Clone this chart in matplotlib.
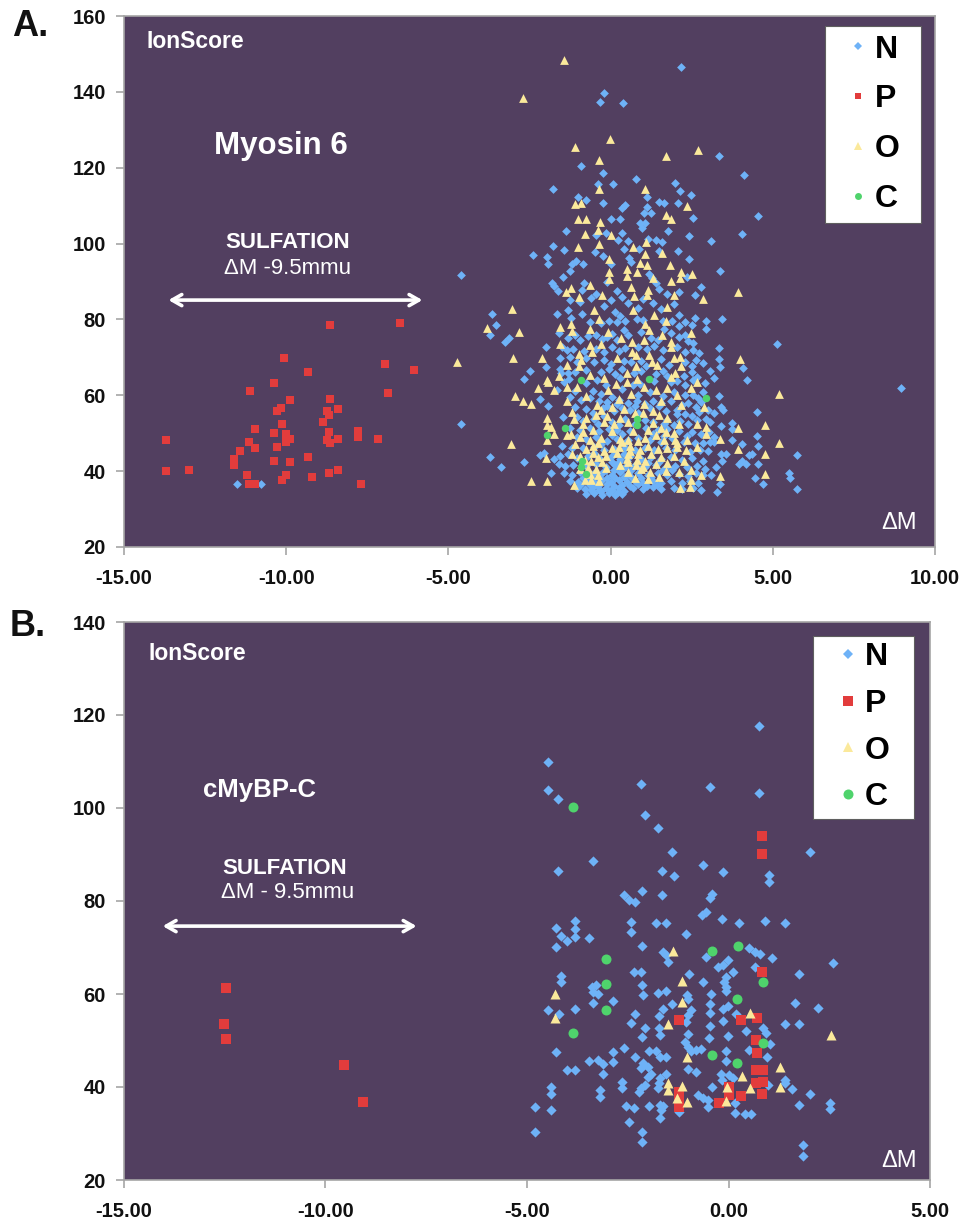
import numpy as np
import matplotlib
matplotlib.use('Agg')
import matplotlib.pyplot as plt
from matplotlib.lines import Line2D

plt.rcParams['font.family'] = ['Liberation Sans', 'DejaVu Sans']

# Panel A (Myosin 6), values as (delta M, ion score)
a_n_outer = [
    (2.16,146.6),(-0.21,139.8),(-0.33,137.3),(0.39,137),(3.34,123.2),(-0.92,120.4),(-0.23,118.5),(4.11,118.1),
    (-1.79,114.5),(-0.39,115.7),(0.07,115.6),(0.78,116.9),(1.98,116.1),(2.13,113.8),(2.48,112.9),(1.13,112.2),
    (-1.01,112.3),(-0.77,111.4),(-0.23,110.8),(1.49,111),(1.65,110.7),(2.08,110.6),(0.43,110.3),(0.36,109.5),
    (1.13,109.7),(4.54,107.2),(1.03,108),(1.23,108),(2.53,106.8),(0.02,106.4),(0.29,106.4),(0.9,105.3),(1.05,105.3),
    (0.98,104),(1.77,103.4),(-1.36,103.2),(4.06,102.6),(0.36,102.7),(-0.15,102.7),(2.43,102.1),(-0.46,102.2),
    (3.08,100.8),(0.23,100.9),(0.54,100.7),(1.15,101.2),(1.39,100.9),(1.58,100.5),(-1.78,99.3),(-1.45,98.3),
    (0.41,98.7),(0.89,98.7),(1.49,98.1),(2.07,98.1),(-0.48,97.7),(-2.40,96.9),(-1.95,96.5),(-1.92,94.6),(-0.24,96.7),
    (0.57,96.1),(0.64,95.2),(2.43,95.9),(-1.08,95.4),(-1.18,94.6),(-1.25,92.8),(-0.84,94.7),(0,94.6),(-4.60,91.8),
    (3.37,92.8),(-1.47,91.1),(1.18,92.1),(1.29,90.8),(1.39,89.5),(1.49,88.1),(2.37,91.2),(-1.80,89.6),(-1.75,88.8),
    (-1.62,87.5),(-0.82,89.5),(-0.87,87.7),(-0.46,86.8),(-0.10,89.9),(0.19,87.4),(1.75,86.7),(2.11,87.1),(2.80,88.6),
    (2.59,86.4),(0.36,85.9),
    (-3.65,81.5),(-3.53,78.6),(-3.72,76),(-3.13,75),(-3.24,74.1),(-1.64,81.5),(3.42,80),(2.93,79.5),(2.93,77.6),
    (5.12,73.5),(3.34,72.5),(3.34,69.5),(3.37,67.5),(4.08,67.2),(4.2,64.1),(3.19,64.6),(3.06,66.3),(2.86,68.5),
    (-2.49,66.3),(-2.67,64.3),(-1.98,67.5),(-2,72.7),(-1.52,65.9),(-2.19,58.9),(-1.93,57.2),(3.34,59.9),(4.52,55.5),
    (-1.46,54.3),(3.39,57),(3.45,56),(-4.60,52.3),(3.41,51.9),(3.75,52.7),(3.75,51.2),(4.52,49.3),(3.75,48.1),
    (4.06,47.1),(4.54,46.6),(3.19,49),(3.19,47.7),(4.37,44.6),(4.27,44.2),(5.74,44.2),(-3.72,43.6),(-3.39,41),
    (-2.67,42.4),(-2.19,44.2),(4.06,42.7),(3.96,42),(4.16,41.8),(4.54,41.8),(5.5,39.6),(5.53,38.3),(4.44,38.3),
    (4.71,36.6),(5.74,35.4),(3.39,44.6),(3.55,44.6),(3.44,42.7),(3.24,41),(3.08,38.9),(3.37,36.7),(3.29,34.5),
    (-11.53,36.7),(-10.78,36.6),(8.95,62),
]
a_n_core = [
    (-1.25,85.2),(-1.3,82.4),(-0.95,84.6),(-0.6,85.6),(-1.22,80.4),(-0.88,81.3),(-0.2,83.6),(0,85),(0.15,82),(0.3,80.9),
    (0.55,84.3),(0.85,83.1),(1,85.3),(1.3,84.2),(1.55,82.8),(1.95,84.1),(2.1,81.2),(2.6,80.4),(-0.62,79.4),(-0.3,79.1),
    (-0.05,79.5),(0.2,79.2),(0.45,79.7),(0.8,80),(1,79.8),(1.6,79.5),(1.9,79.7),(2.3,79.4),(2.5,78.5),(2.1,78.2),
    (-1.6,76.5),(-1.3,75.2),(-1.1,75.8),(-0.95,74.6),(-0.7,75.7),(-0.45,76),(-0.25,74.8),(-0.1,75.3),(0.05,76.1),(0.2,74.6),
    (0.4,77.2),(0.55,75.9),(0.95,76.7),(1.25,75.1),(1.45,74.5),(1.65,77.4),(1.85,76.3),(2.1,75.4),(2.3,75.9),(2.4,74.2),
    (2.55,73.8),(-1.5,72.6),(-1.35,71.9),(-1.15,72.3),(-0.82,71.7),(-0.45,72.2),(-0.2,71.4),(0.05,72.8),(0.25,71.8),(0.45,72.5),
    (0.85,72.7),(1.12,72.2),(1.35,73.1),(1.6,71.9),(2.05,72.8),(2.3,71.5),(2.55,72),(2.72,71.1),(-1.55,69.7),(-1.25,70),
    (-1.05,68.9),(-0.75,69.7),(-0.5,68.8),(-0.2,69.3),(0,68.2),(0.4,69.1),(0.62,68.7),(0.95,69.1),(1.1,67.8),(1.55,69.5),
    (1.8,68),(2.3,68.9),(2.5,67.8),(2.62,69.2),(-1.55,66.8),(-1.3,65.8),(-1.1,66.2),(-0.75,66.6),(-0.3,66.1),(-0.05,67),
    (0.15,65.6),(0.35,66.8),(0.72,65.9),(0.95,66.5),(1.4,65.6),(1.62,66.4),(1.75,65),(2.25,65.2),(2.5,66.2),(2.65,64.8),
    (-1.45,63.6),(-1.28,64.2),(-0.75,63.3),(-0.42,63.9),(-0.15,62.7),(0.3,64.5),(0.7,62.6),(0.9,63.1),(1.35,63.7),(1.85,63.4),
    (2.05,63.8),(2.3,62.7),(2.55,64.1),(2.9,63.2),(-1.65,61.4),(-1.1,61),(-0.55,61),(-0.3,60.4),(0.05,59.6),(0.35,61.7),
    (0.85,60.2),(1.2,60.8),(1.62,59.7),(1.95,60.8),(2.3,60.2),(2.55,60),(2.7,59.2),(2.85,60.8),(-1.25,59.5),(-0.9,58.7),
    (-0.62,59.3),(-0.35,58.4),(-0.1,58.1),(0.25,58.7),(0.55,57.9),(0.8,58.5),(1.3,58.4),(1.55,58),(1.85,58.4),(2.4,57.9),
    (2.62,56.9),(2.78,58.2),(3,56.2),(3.2,55.2),(-1.1,56.9),(-0.75,56.4),(-0.55,55.4),(-0.22,56.6),(0.1,55.9),(0.35,56.7),
    (0.6,56.2),(0.85,55.2),(1.2,56.6),(1.7,55.8),(2.05,56.2),(2.3,55.1),(2.5,54.6),(-1.05,54.3),(-0.85,53.2),(-0.5,53.8),
    (-0.2,54.5),(0.05,53),(0.45,53.7),(1.05,53.5),(1.3,53),(1.75,53.6),(2.15,53.1),(2.4,52.3),(2.65,53.5),(-1.25,51.4),
    (-0.95,50.9),(-0.65,51.3),(-0.35,50.7),(-0.05,51.2),(0.2,50.8),(0.6,50.5),(1.1,51.3),(1.45,50.9),(1.75,51.2),(2.1,50.6),
    (2.5,50.2),(2.8,49.7),(3.02,50.2),(-1.05,49.1),(-0.75,48.6),(-0.45,48.9),(-0.1,48),(0.2,48.6),(0.55,48.1),(0.85,48.7),
    (1.2,48.2),(1.55,47.6),(1.9,48.7),(2.25,47.8),(2.6,47.4),(2.85,47.3),(3.05,47.8),(-1.5,46.5),(-1.2,46.2),(-0.85,46.1),
    (-0.5,46.4),(-0.2,45.7),(0.1,45.9),(0.45,46.2),(0.75,45.6),(1.05,46),(1.35,45.5),(1.7,46),(2,45.7),(2.45,45.1),
    (2.75,45.6),(3,45.2),(-2.05,44.7),(-1.75,43.2),(-1.55,43.9),(-1.3,44.4),(-1.05,43.5),(-0.7,43.9),(-0.35,43.4),(0,43.8),
    (0.3,43.2),(0.6,43.9),(0.95,43.2),(1.25,43.6),(1.55,43.1),(1.85,43.7),(2.2,43),(2.5,43.4),(2.85,42.6),(-1.6,41.9),
    (-1.4,41.4),(-1.15,41.7),(-0.75,41.3),(-0.45,41.8),(-0.15,41.2),(0.15,41.7),(0.45,41.1),(0.75,41.6),(1.05,41),(1.4,41.5),
    (1.7,41),(2,41.3),(2.35,41.1),(2.65,41.4),(2.9,40.6),(-1.85,39.6),(-1.45,39.4),(-1.2,39.1),(-0.95,39.7),(-0.55,39.3),
    (-0.25,39.6),(0.05,39.1),(0.3,39.7),(0.55,39.2),(0.85,39.6),(1.15,39),(1.45,39.5),(1.75,39),(2.1,39.3),(2.4,38.8),
    (2.62,39.4),(2.85,38.9),(-1.25,37.5),(-1,37.1),(-0.75,37.7),(-0.5,37.2),(-0.25,37.6),(0,37.1),(0.25,37.6),(0.5,37.1),
    (0.75,37.5),(1,37),(1.3,37.4),(1.55,37),(1.85,37.4),(2.2,37),(2.45,37.3),(2.7,36.8),(-1.05,35.6),(-0.8,35.2),
    (-0.55,35.7),(-0.35,35.1),(-0.15,35.6),(0.05,35),(0.25,35.5),(0.4,34.8),(0.7,35.6),(1,35.3),(1.3,35.7),(1.55,35.2),
    (1.95,35.5),(2.2,35.2),(2.55,35.6),(2.8,35.1),(-0.75,34),(-0.5,34.2),(-0.25,33.8),(-0.05,34.2),(0.15,33.8),(0.35,34.1),
    # second pass over the densest area, bottom of the cloud
    (-0.95,36.3),(-0.65,36.4),(-0.4,36.2),(-0.1,36.5),(0.12,36.1),(0.35,36.4),(0.6,36.2),(0.85,36.5),(1.12,36.1),(1.42,36.3),
    (-0.85,38.2),(-0.6,38.4),(-0.35,38.1),(-0.1,38.3),(0.15,38.2),(0.42,38.4),(0.65,38.3),(0.95,38.2),(1.25,38.4),(-0.3,34.7),
    (0.02,34.9),(0.22,34.4),(-0.6,34.9),(-0.15,40.4),(0.1,40.2),(0.35,40.5),(0.62,40.3),(0.9,40.6),(1.6,40.3),(1.9,40.2),
    (0.05,42.5),(0.25,42.3),(0.5,42.6),(1.15,42.2),(1.5,42.4),(-0.5,44.7),(0.15,44.8),(0.4,44.6),(-0.3,47.2),(0.45,47.4),
    (0.05,49.6),(0.35,49.9),(1.3,49.8),(1.65,49.3),(2.35,49.3),(-0.4,52.4),(0.25,52.1),(0.75,52.3),(1.65,52.3),(1.95,52.2),
    (-0.1,57.3),(0.2,57.6),(0.75,57.1),(1.05,57.6),(1.5,57.2),(2.2,57.4),(2.95,53.7),(3.05,52.9),(2.05,55.1),(2.72,55.5),
]
a_o_core = [
    (-1.44,148.4),(-2.71,138.3),(-0.03,127.5),(-1.10,125.5),(2.70,124.6),(1.70,123.2),(-0.36,122),(-0.36,114.5),(1.06,114.3),
    (2.34,110),(-1.11,110.4),(-0.9,110.8),(-1,106.4),(-0.75,106.5),(1.70,107.5),(1.85,106.6),(-0.33,105.6),(-0.39,103.5),
    (-0.8,102.4),(0,102.2),(-0.36,99.8),(-1,99),(0.7,99.1),(1.08,100.3),(1.07,97.2),(1.57,97.4),(-0.05,96),(0.91,94.9),
    (1.13,94.3),(1.83,94.3),(0.5,93.2),(-0.05,92.4),(0.82,92.4),(2.18,92.4),(2.5,92.1),(-0.05,90.6),(0.5,91.4),(1.32,91),
    (2.14,90.8),(1.85,90.2),(3.93,87.3),(-0.62,89.2),(0.62,88.6),(-1.23,88.2),(-1.36,87.3),(1.16,87.7),(1.13,86.4),(-0.26,86.4),
    (1.95,86.4),(0.72,86.2),(2.86,85.5),(-0.97,85.8),
    (-3.03,82.7),(-3.8,77.8),(-2.81,76.7),(-4.73,68.8),(-3,69.7),(-2.11,69.9),(-1.57,73.6),(-1.56,78),(-1.23,78.9),(-1.2,77),
    (-0.65,77.4),(-0.51,82.4),(-0.36,80.2),(0.7,82.6),(1.34,81.1),(1.75,83.3),(1.7,79.6),(1.05,78.9),(1.18,77.3),(1.03,74.5),
    (1.59,75.8),(2.49,76.3),(1.85,74),(1.85,72.7),(0.31,75.1),(0.67,74),(0.67,71.4),(-0.07,76.7),(-0.62,73.2),(-0.31,73.4),
    (-0.56,71.4),(-0.97,71),(-0.92,69.2),(-1.33,67.9),(-0.97,67.6),(0.21,69.7),(0.77,70.5),(1.18,70.7),(1.95,69.9),(2.13,70.1),
    (1.29,68.8),(1.44,67.9),(0.77,67.7),(2.18,67.6),(1.97,65.9),(3.99,69.5),(5.19,60.4),(-0.62,65.3),(-1.95,64.1),(-1.93,63.4),
    (-2.24,61.9),(-1.75,61.5),(-1.33,62.2),(-1.03,62.2),(-2.96,59.9),(-2.69,58.5),(-2.44,57.8),(-0.07,61.3),(0.52,65.9),(0.82,64.4),
    (0.52,63.5),(0.16,63),(0.62,60.4),(1.03,62.2),(1.39,61.3),(1.75,61.8),(2.67,63.5),(2.47,61.8),(2.06,60),(2.16,57.4),(1.03,57.8),
    (1.49,54.7),(2.88,56.9),(-0.43,57.4),(-1.18,55.6),(-1.13,53.8),(-1.97,54.1),(-1.95,52.1),(-1.85,51.6),(-1.75,49.7),(-1.97,48.1),
    (-1.35,49.4),(-1.23,49.9),(-3.06,47.1),(-1.98,43.5),(-2.44,37.4),(-1.97,37.4),(-1.13,36.4),(-0.8,37.6),(3.93,51.4),(4.75,52.1),
    (5.19,47.5),(3.94,45.9),(4.75,44.6),(4.75,39.3),(3.37,48.6),(3.37,38.6),(2.93,51.6),(2.93,49.9),(2.67,52.5),(2.67,46.4),(2.78,39),
    (2.11,39.9),(2.47,40.2),(2.47,37.6),(2.45,35.8),(2.13,35.6),(2.32,45.5),(2,48.1),(2.06,46.4),(2.37,48.1),(2.26,42.8),
    (0.05,56.8),(0.4,56.3),(0.75,55.2),(-0.1,54.5),(0.3,53.9),(1,55.3),(1.75,53.9),(-0.75,54),(-0.45,54.7),(-0.2,52.9),(0.1,52.4),
    (0.55,53),(1.3,52.7),(1.55,51.3),(2.1,52.5),(-0.85,52.3),(-0.85,50.4),(-0.55,50.9),(0.05,50.7),(0.7,50.6),(1.15,50.8),(1.7,50.2),
    (-0.95,48.9),(-0.65,48.3),(-0.3,48.8),(0.3,48.5),(0.55,48.1),(0.85,47.9),(1.4,49.4),(1.65,48.2),(-1.1,47.1),(-0.55,46.7),(-0.4,47.3),
    (-0.75,45.9),(-0.2,45.4),(0.05,46.2),(0.25,46.4),(0.6,45.2),(0.9,45.6),(1.15,46.6),(1.45,45.8),(1.75,46.2),(-1.2,44.4),(-0.95,44.1),
    (-0.55,44.8),(-0.4,43.6),(-0.15,44),(0.55,44.4),(0.85,44.4),(1.25,44.6),(1.55,43.6),(1.95,44.1),(-0.6,42.7),(-0.25,42.4),(0.3,41.5),
    (0.8,43),(1.05,42.6),(1.4,41.9),(1.75,42.2),(-0.7,40.9),(-0.45,40.6),(-0.15,40.7),(0.55,39.7),(0.95,40.6),(1.2,39.8),(1.7,40.1),
    (-0.65,39.3),(-0.4,38.9),(-0.6,37.6),(-0.35,37.3),(0.75,38.3),(1.15,38),(1.5,38.4),
    (0.2,44.9),(0.5,43.1),(0.78,41.6),(1,41.1),(-0.8,43),(-0.9,41.8),(-0.95,40.5),(0.35,47.6),(0.6,46.7),(1.05,48.8),(0.55,42.3),
    (1.95,50),(1.3,55.8),(1.55,58.6),(0.25,59),(-0.75,59.8),(-0.3,56),(2.05,47.3),(-1.35,58.6),(-1.6,65),(-0.2,64.6),(1.85,64.8),
]
a_p = [
    (-8.66,78.4),(-6.50,79),(-10.08,69.8),(-6.95,68.3),(-6.05,66.6),(-9.34,66.2),(-10.37,63.3),(-11.13,61.2),(-6.87,60.5),
    (-9.89,58.7),(-8.66,59.1),(-10.17,56.7),(-10.29,55.9),(-8.75,55.9),(-8.39,56.3),(-8.68,54.8),(-8.88,52.9),(-10.12,52.4),
    (-10.97,51.1),(-7.79,50.7),(-8.68,50.3),(-10.37,50.1),(-10.01,49.9),(-7.79,48.9),(-13.71,48.1),(-7.16,48.6),(-9.88,48.6),
    (-10.01,47.7),(-8.75,48.2),(-8.66,47.4),(-8.41,48.5),(-11.14,47.6),(-10.97,46.2),(-10.29,46.3),(-11.42,45.4),(-11.61,43.3),
    (-11.61,42.5),(-11.61,41.6),(-9.34,43.8),(-10.37,42.7),(-9.89,42.5),(-13.71,40.1),(-13.01,40.3),(-8.39,40.3),(-8.68,39.4),
    (-10.01,39.1),(-11.22,38.9),(-10.12,37.7),(-9.21,38.4),(-10.97,36.5),(-11.15,36.5),(-7.69,36.5),
]
a_c = [(-0.92,63.9),(1.18,64.4),(2.94,59.4),(0.82,53.8),(0.82,52.1),(-1.4,51.5),(-1.95,49.4),(-0.89,42.7),(-0.92,41.1),(-0.77,39.2)]

# Panel B (cMyBP-C)
b_n = [
    (0.76,117.6),(-4.47,109.8),(-4.47,103.9),(-4.22,101.9),(-2.18,105.1),(-0.47,104.5),(0.76,103.3),(-2.08,98.6),(-1.75,95.8),
    (-1.39,90.5),(2.02,90.6),(-3.36,88.5),(-4.22,86.5),(-0.64,87.7),(-1.66,86.4),(-1.34,85.4),(-0.13,86.2),(1.01,85.6),(1.01,84.1),
    (-2.15,82.1),(-2.6,81.3),(-2.47,80.2),(-2.32,79.7),(-1.66,81.2),(-0.4,81.5),(-0.45,80.6),(-0.57,77.7),(-0.65,77),(-0.17,76.1),
    (0.26,75.3),(0.91,75.8),(1.39,75.3),(-3.8,75.6),(-3.8,74),(-3.8,72.2),(-4.28,74.3),(-4.15,72.5),(-4,71.3),(-4.28,70.1),(-3.46,72),
    (-2.43,75.5),(-2.43,73.4),(-1.79,75.3),(-1.54,75.2),(-1.06,73),(-2.15,70.4),(-1.63,69.1),(-1.55,68.4),(-1.5,66.9),(0.52,70),
    (0.65,69),(0.77,68.5),(1.08,67.7),(-0.57,68),(-0.02,67.3),(-0.14,66.2),(-0.26,65.9),(2.59,66.6),(0.65,65.7),(1.76,64.4),(-2.35,64.8),
    (-2.17,64.8),(-0.98,64.2),(0.11,64.8),(-0.06,63.7),(-0.1,62.6),(-0.07,61.6),(-0.07,60.7),(-4.15,63.9),(-4.15,62.5),(-0.64,62.6),
    (-2.14,62),(-3.28,61.9),(-3.38,61.6),(-3.37,60.5),(-3.24,60),(-1.75,60.2),(-1.55,60.7),(-2.11,59.8),(-1.03,59.8),(-1,59),(-0.43,60),
    (-2.87,58.6),(-3.37,58.1),(1.66,58.1),(2.23,56.9),(-4.47,56.6),(-3.8,56.7),(-1.41,57.8),(-0.45,57.8),(-0.45,56),(-0.02,57.5),(-0.14,56.8),
    (-1.63,56.8),(-1.73,55.3),(-0.93,56.6),(-1.01,55.5),(-1.05,54),(-2.32,55.8),(-4.21,55.7),(-2.43,53.8),(0.19,55.7),(-0.13,54.2),
    (1.41,53.5),(1.76,53.5),(-0.45,53.2),(0.85,52.6),(0.92,51.7),(0.44,52),(-2.08,52.6),(-1.73,52.6),(-1.71,51.2),(-2.15,50.7),(-1,51.5),
    (-0.49,50.6),(-0.02,50.9),(1.02,49.2),(-1.09,49.6),(-1,48.7),(-0.93,47.7),(-0.8,48),(-0.68,48.1),(-2.59,48.4),(-2.87,47.6),(-4.28,47.6),
    (-1.98,47.8),(-1.79,47.8),(-1.71,46.4),(-1.55,46.5),(-2.32,46.5),(-0.07,47.8),(0.52,47.9),(0.96,46.5),(-2.87,45.4),(-3.45,45.6),
    (-3.24,45.7),(-3.12,44.9),(-3.12,42.9),(-0.07,45.6),(-2.13,45.2),(-2,44.4),(-2.17,44),(-1.92,42.9),(-2,42.2),(-4,43.7),(-3.8,43.7),
    (-1,43.8),(-0.8,43.2),(-1.55,42.9),(-0.18,42.9),(0.02,42.6),(0.11,41.9),(-0.16,41.5),(0.98,40.4),(1.39,41.6),(1.39,40.8),(-1.71,41.9),
    (-1.73,40.8),(-1.75,39.7),(-2.64,41.1),(-2.64,39.8),(-2.08,40.4),(-2.17,39.7),(-2.21,38.9),(-4.4,40),(-4.4,38.6),(-3.18,39.3),(-3.18,37.8),
    (-0.4,40),(1.57,39.6),(2.02,38.4),(-0.76,38.3),(-0.64,37.6),(-0.51,37.2),(-0.5,35.8),(2.52,36.5),(2.52,35.3),(1.76,36.1),(-4.8,35.6),
    (-4.4,35),(-2.55,35.9),(-2.35,35.4),(-1.98,35.9),(-1.71,36.1),(-1.63,35.9),(-1.67,35),(-1.71,33.3),(-1.22,34.7),(0.15,36.5),(0.15,34.5),
    (0.4,34.2),(0.56,34.1),(-2.46,32.4),(-4.8,30.4),(-2.14,30.3),(-2.14,28.2),(1.86,27.5),(1.86,25.2),
]
b_p = [
    (0.84,94),(0.84,90.2),(0.84,64.7),(-1.24,54.4),(0.31,54.4),(0.7,54.9),(0.69,50.2),(0.7,47.4),(0.69,43.7),(0.85,43.7),(0.69,40.9),
    (0.85,41.1),(0.84,38.4),(0.31,38.1),(0.01,40),(0.01,38.3),(-0.24,36.5),(-1.24,39),(-1.24,37.2),(-1.24,35.6),
    (-12.47,61.3),(-12.53,53.5),(-12.47,50.3),(-9.55,44.7),(-9.06,36.8),
]
b_o = [
    (-1.38,69.2),(-1.16,62.9),(-1.16,58.3),(-4.31,60.1),(-4.31,54.8),(-1.49,53.5),(0.54,56),(2.55,51.2),(1.27,44.4),(-1.03,46.4),(0.33,42.4),
    (-1.5,40.8),(-1.15,40.3),(-1.49,39.3),(-1.28,37.6),(-1.03,36.7),(-0.04,39.9),(-0.06,37),(0.54,39.8),(1.27,40.1),
]
b_c = [
    (-3.87,100.3),(0.23,70.4),(-0.41,69.2),(-3.04,67.5),(-3.04,62.1),(0.85,62.5),(-3.04,56.6),(0.22,59),(-3.87,51.7),(0.85,49.4),(-0.41,46.9),(0.22,45.1),
]

a_xticks = [-15, -10, -5, 0, 5, 10]
a_yticks = [20, 40, 60, 80, 100, 120, 140, 160]
b_xticks = [-15, -10, -5, 0, 5]
b_yticks = [20, 40, 60, 80, 100, 120, 140]

BG = '#523f60'
GREY = '#a5a5a5'
BLUE = '#6eb2f7'
RED = '#e23c3c'
YELLOW = '#fbe99b'
GREEN = '#4fd36c'
W, H = 961, 1217


def px_axes(left, top, right, bottom):
    return fig.add_axes([left / W, 1 - bottom / H, (right - left) / W, (bottom - top) / H])


def put(px, py, s, **kw):
    kw.setdefault('ha', 'center')
    kw.setdefault('va', 'center')
    kw.setdefault('color', 'white')
    fig.text(px / W, 1 - py / H, s, **kw)


def draw_panel(ax, n, p, o, c, xticks, yticks, xlim, ylim, sizes):
    ax.set_facecolor(BG)
    ax.scatter(*zip(*n), marker='D', s=sizes[0], color=BLUE, linewidths=0, zorder=2)
    ax.scatter(*zip(*p), marker='s', s=sizes[1], color=RED, linewidths=0, zorder=3)
    ax.scatter(*zip(*o), marker='^', s=sizes[2], color=YELLOW, linewidths=0, zorder=4)
    ax.scatter(*zip(*c), marker='o', s=sizes[3], color=GREEN, linewidths=0, zorder=5)
    ax.set_xlim(*xlim)
    ax.set_ylim(*ylim)
    ax.set_xticks(xticks)
    ax.set_xticklabels(['%.2f' % t for t in xticks])
    ax.set_yticks(yticks)
    ax.tick_params(length=6, width=1.2, color=GREY, labelsize=14.5, labelcolor='#111111')
    ax.tick_params(axis='x', pad=10)
    ax.tick_params(axis='y', pad=7)
    for lab in ax.get_xticklabels() + ax.get_yticklabels():
        lab.set_fontweight('bold')
    for s in ax.spines.values():
        s.set_color(GREY)
        s.set_linewidth(1.2)


def add_legend(ax, box, ms, pad, hlen, tpad, spacing):
    handles = [
        Line2D([], [], ls='', marker='D', ms=ms[0], color=BLUE, mew=0),
        Line2D([], [], ls='', marker='s', ms=ms[1], color=RED, mew=0),
        Line2D([], [], ls='', marker='^', ms=ms[2], color=YELLOW, mew=0),
        Line2D([], [], ls='', marker='o', ms=ms[3], color=GREEN, mew=0),
    ]
    left, top, width, height = box
    leg = ax.legend(handles, ['N', 'P', 'O', 'C'], loc='upper left',
                    bbox_to_anchor=(left / W, 1 - (top + height) / H, width / W, height / H),
                    bbox_transform=fig.transFigure, prop={'weight': 'bold', 'size': 23},
                    frameon=True, fancybox=False, framealpha=1, facecolor='white', edgecolor='#5f5f5f',
                    mode='expand', borderaxespad=0, borderpad=pad, labelspacing=spacing,
                    handlelength=hlen, handletextpad=tpad)
    leg.get_frame().set_linewidth(0.8)
    leg.set_zorder(10)
    return leg


def arrow(ax, x0, x1, y):
    ax.annotate('', xy=(x1, y), xytext=(x0, y),
                arrowprops=dict(arrowstyle='<->,head_length=0.7,head_width=0.4', color='white', lw=2.6,
                                shrinkA=0, shrinkB=0), zorder=6)


fig = plt.figure(figsize=(W / 100, H / 100), dpi=100, facecolor='white')

ax_a = px_axes(124, 16, 935, 547)
draw_panel(ax_a, a_n_outer + a_n_core, a_p, a_o_core, a_c, a_xticks, a_yticks, (-15, 10), (20, 160), (20, 29, 40, 29))
add_legend(ax_a, (825, 26, 96, 201), (3.8, 5, 6, 5), 0.27, 1.53, -0.24, 0.62)
arrow(ax_a, -13.63, -5.8, 85.1)

ax_b = px_axes(124, 622, 930, 1180)
draw_panel(ax_b, b_n, b_p, b_o, b_c, b_xticks, b_yticks, (-15, 5), (20, 140), (27, 50, 52, 52))
add_legend(ax_b, (813, 636, 101, 187), (5, 6.5, 7.2, 7.2), 0.2, 1.78, -0.35, 0.52)
arrow(ax_b, -14.04, -7.74, 74.6)

put(12, 27, 'A.', ha='left', color='#111111', fontsize=26, fontweight='bold')
put(10, 626, 'B.', ha='left', color='#111111', fontsize=26, fontweight='bold')

put(146, 41, 'IonScore', ha='left', fontsize=16.5, fontweight='bold')
put(281, 146, 'Myosin 6', fontsize=22.5, fontweight='bold')
put(288, 243, 'SULFATION', fontsize=16, fontweight='bold')
put(288, 268, '\u0394M -9.5mmu', fontsize=16)
put(899, 523, '\u0394M', fontsize=17)

put(149, 653, 'IonScore', ha='left', fontsize=16.5, fontweight='bold')
put(260, 790, 'cMyBP-C', fontsize=18.5, fontweight='bold')
put(285, 868, 'SULFATION', fontsize=16, fontweight='bold')
put(288, 893, '\u0394M - 9.5mmu', fontsize=16)
put(899, 1161, '\u0394M', fontsize=17)

fig.savefig('out.png', dpi=100)
plt.close(fig)
